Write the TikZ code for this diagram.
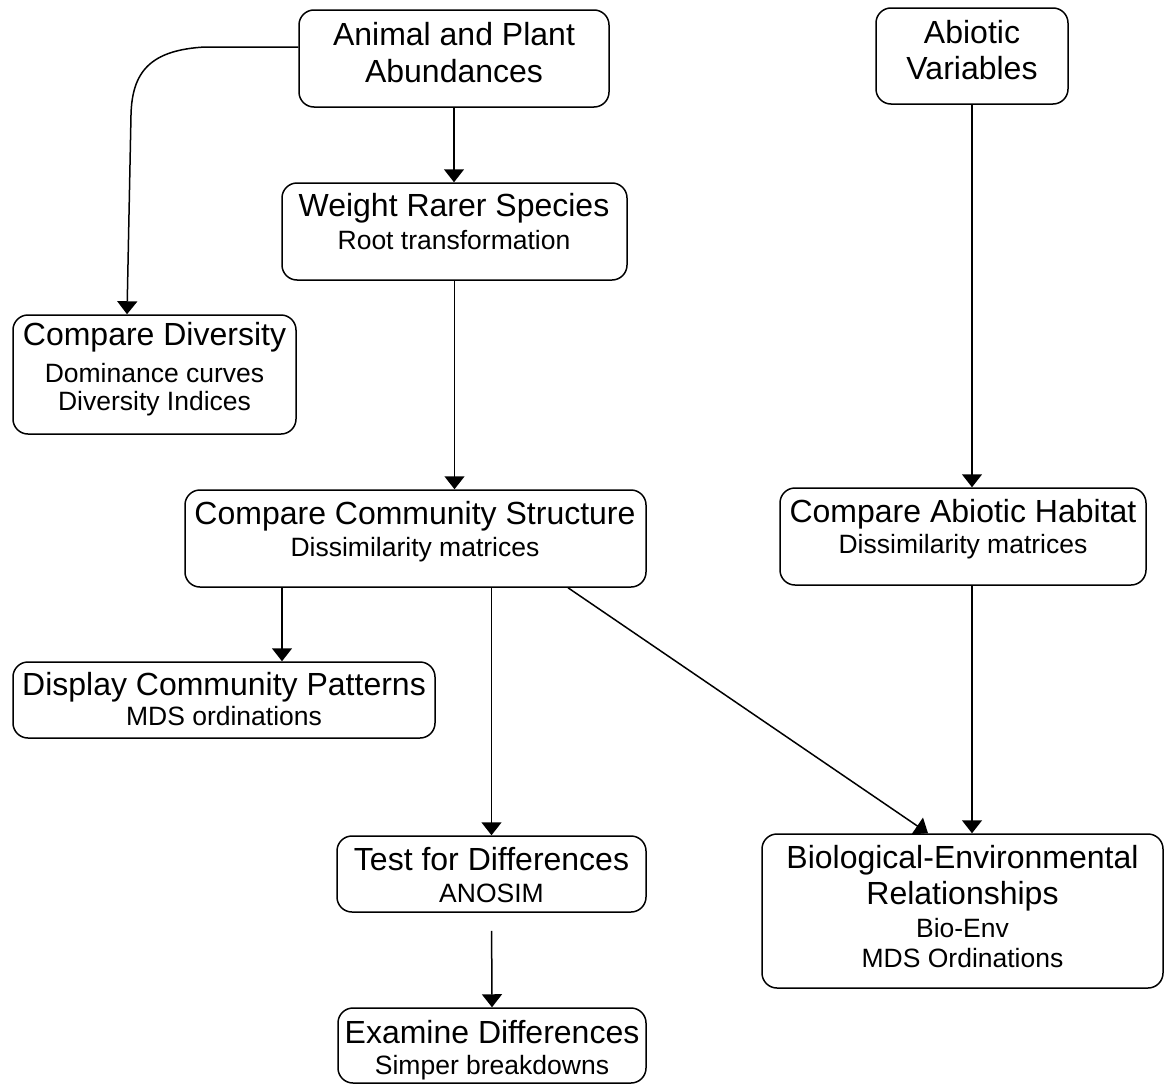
\documentclass[tikz,border=0pt]{standalone}
\usepackage{fontspec}
\setmainfont{Liberation Sans}
\usetikzlibrary{arrows.meta}
\begin{document}
\begin{tikzpicture}[x=1pt,y=-1pt,
  box/.style={draw, line width=1.5pt, rounded corners=15pt, inner sep=0pt},
  ttl/.style={anchor=base, inner sep=0pt, font=\fontsize{32}{37}\selectfont},
  sub/.style={anchor=base, inner sep=0pt, font=\fontsize{26.5}{31}\selectfont},
  arr/.style={line width=1.5pt, -{Triangle[width=20pt,length=13pt]}}]
\useasboundingbox[fill=white] (0,0) rectangle (1164,1084);

% boxes
\node[box, minimum width=310pt, minimum height=97pt] (anim) at (454,58.5) {};
\node[box, minimum width=192pt, minimum height=96pt] (abio) at (972,56) {};
\node[box, minimum width=345pt, minimum height=97pt] (weight) at (454.5,231.5) {};
\node[box, minimum width=283pt, minimum height=119pt] (div) at (154.5,374.5) {};
\node[box, minimum width=461pt, minimum height=97pt] (comm) at (415.5,538.5) {};
\node[box, minimum width=366pt, minimum height=97pt] (hab) at (963,536.5) {};
\node[box, minimum width=422pt, minimum height=76pt] (disp) at (224,700) {};
\node[box, minimum width=309pt, minimum height=76pt] (test) at (491.5,874) {};
\node[box, minimum width=401pt, minimum height=154pt] (bio) at (962.5,911) {};
\node[box, minimum width=308pt, minimum height=75pt] (exam) at (492,1045.5) {};

% texts
\node[ttl] (anim1) at (454,45) {Animal and Plant};
\node[ttl] (anim2) at (454,82) {Abundances};
\node[ttl] (abio1) at (972,43) {Abiotic};
\node[ttl] (abio2) at (972,79) {Variables};
\node[ttl] (weight1) at (454,216) {Weight Rarer Species};
\node[sub] (weight2) at (454,249) {Root transformation};
\node[ttl] (div1) at (154.5,345) {Compare Diversity};
\node[sub] (div2) at (154.5,382) {Dominance curves};
\node[sub] (div3) at (154.5,410) {Diversity Indices};
\node[ttl] (comm1) at (415,524) {Compare Community Structure};
\node[sub] (comm2) at (415,556) {Dissimilarity matrices};
\node[ttl] (hab1) at (963,522) {Compare Abiotic Habitat};
\node[sub] (hab2) at (963,553) {Dissimilarity matrices};
\node[ttl] (disp1) at (224,695) {Display Community Patterns};
\node[sub] (disp2) at (224,725) {MDS ordinations};
\node[ttl] (test1) at (491.5,870) {Test for Differences};
\node[sub] (test2) at (491.5,902) {ANOSIM};
\node[ttl] (bio1) at (962.5,868) {Biological-Environmental};
\node[ttl] (bio2) at (962.5,904) {Relationships};
\node[sub] (bio3) at (962.5,937) {Bio-Env};
\node[sub] (bio4) at (962.5,967) {MDS Ordinations};
\node[ttl] (exam1) at (492,1043) {Examine Differences};
\node[sub] (exam2) at (492,1074) {Simper breakdowns};

% connectors
\draw[arr] (anim.south) -- (anim.south |- weight.north);
\draw[arr] (weight.south) -- (weight.south |- comm.north);
\draw[arr] (anim.west |- 0,47) -- (205,47) .. controls (150,50) and (132,72) .. (131,115) -- (127,0 |- div.north);
\draw[arr] (abio.south) -- (abio.south |- hab.north);
\draw[arr] (282,0 |- comm.south) -- (282,0 |- disp.north);
\draw[arr] (test.north |- comm.south) -- (test.north);
\draw[arr] (568,0 |- comm.south) -- (928,0 |- bio.north);
\draw[arr] (abio.south |- hab.south) -- (abio.south |- bio.north);
\draw[arr, shorten <=18pt] (test.south) -- (exam.north);
\end{tikzpicture}
\end{document}
